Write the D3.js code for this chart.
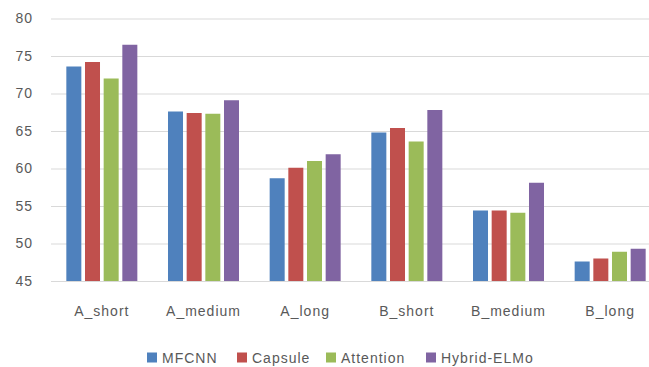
<!DOCTYPE html>
<html>
<head>
<meta charset="utf-8">
<script src="https://cdn.jsdelivr.net/npm/d3@7"></script>
<style>
  html, body { margin: 0; padding: 0; background: #fff; overflow: hidden; }
  svg { display: block; }
  text { font-family: "Liberation Sans", Arial, sans-serif; fill: #595959; letter-spacing: 1px; }
</style>
</head>
<body>
<svg id="chart" width="649" height="367"></svg>
<script>
// Accuracy per dataset split and model
const categories = ["A_short", "A_medium", "A_long", "B_short", "B_medium", "B_long"];
const seriesNames = ["MFCNN", "Capsule", "Attention", "Hybrid-ELMo"];
const MFCNN      = [73.6, 67.6, 58.7, 64.8, 54.4, 47.6];
const Capsule    = [74.2, 67.4, 60.1, 65.4, 54.4, 48.0];
const Attention  = [72.0, 67.3, 61.0, 63.6, 54.1, 48.9];
const HybridELMo = [76.5, 69.1, 61.9, 67.8, 58.1, 49.3];
const yTicks = [45, 50, 55, 60, 65, 70, 75, 80];
const colors = ["#4F81BD", "#C0504D", "#9BBB59", "#8064A2"];

const seriesValues = [MFCNN, Capsule, Attention, HybridELMo];
const rows = categories.map((c, i) => ({
  category: c,
  values: seriesNames.map((s, j) => ({ series: s, value: seriesValues[j][i] }))
}));

const svg = d3.select("#chart");

const x0 = d3.scaleBand()
  .domain(categories)
  .range([51, 661])
  .paddingInner(0.3016)
  .paddingOuter(0.1508);

const x1 = d3.scaleBand()
  .domain(seriesNames)
  .range([0, x0.bandwidth()])
  .paddingInner(0.196)
  .paddingOuter(0);

const y = d3.scaleLinear().domain([45, 80]).range([281, 18.5]);

const color = d3.scaleOrdinal().domain(seriesNames).range(colors);

// Horizontal gridlines with value labels
const yAxis = d3.axisLeft(y)
  .tickValues(yTicks)
  .tickSize(-(661 - 51))
  .tickPadding(18);

const gy = svg.append("g")
  .attr("transform", "translate(51,0)")
  .call(yAxis);
gy.select(".domain").remove();
gy.selectAll(".tick line")
  .attr("stroke", "#d9d9d9")
  .attr("stroke-width", 1);
gy.selectAll(".tick text")
  .attr("font-size", 14)
  .attr("fill", "#595959")
  .style("font-family", "'Liberation Sans', Arial, sans-serif");

// Bars
const groups = svg.append("g")
  .selectAll("g")
  .data(rows)
  .join("g")
  .attr("transform", d => `translate(${x0(d.category)},0)`);

groups.selectAll("rect")
  .data(d => d.values)
  .join("rect")
  .attr("x", d => x1(d.series))
  .attr("y", d => y(d.value))
  .attr("width", x1.bandwidth())
  .attr("height", d => y(45) - y(d.value))
  .attr("fill", d => color(d.series));

// Category labels
const xAxis = d3.axisBottom(x0).tickSize(0).tickPadding(25);
const gx = svg.append("g")
  .attr("transform", `translate(0,${y(45)})`)
  .call(xAxis);
gx.select(".domain").remove();
gx.selectAll(".tick text")
  .attr("font-size", 14)
  .attr("fill", "#595959")
  .style("font-family", "'Liberation Sans', Arial, sans-serif");

// Legend
const legendX = [0, 90, 179, 279];
const legend = svg.append("g").attr("transform", "translate(147,352.5)");
seriesNames.forEach((name, i) => {
  const item = legend.append("g").attr("transform", `translate(${legendX[i]},0)`);
  item.append("rect")
    .attr("width", 10)
    .attr("height", 10)
    .attr("fill", color(name));
  item.append("text")
    .attr("x", 15)
    .attr("y", 10)
    .attr("font-size", 14)
    .text(name);
});
</script>
</body>
</html>
